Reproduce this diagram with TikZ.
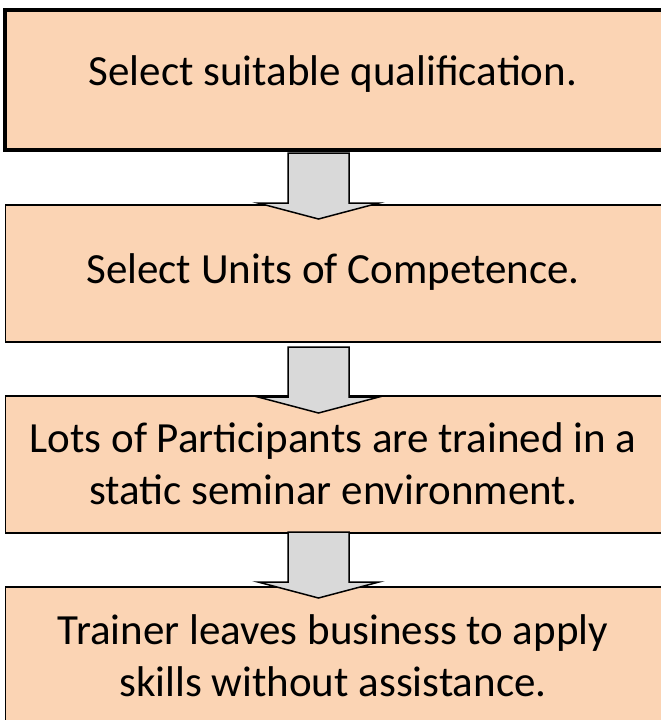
\documentclass[tikz,border=0pt]{standalone}
\usepackage{fontspec}
\setmainfont{Carlito}
\definecolor{peach}{HTML}{FBD4B4}
\definecolor{arrowgrey}{HTML}{D9D9D9}
\begin{document}
\begin{tikzpicture}[x=1pt,y=-1pt,
  boxstyle/.style={draw=black, fill=peach, line width=1.8pt},
  thickbox/.style={boxstyle, line width=4pt},
  txt/.style={font=\fontsize{43}{51.6}\selectfont, align=center, inner sep=0pt, text=black},
  arrowstyle/.style={draw=black, fill=arrowgrey, line width=1.5pt, line join=miter},
  blockarrow/.pic={\draw[arrowstyle] (-30.5,0) -- (30.5,0) -- (30.5,50) -- (60.5,50) -- (0,66) -- (-60.5,50) -- (-30.5,50) -- cycle;}
]
\useasboundingbox (0,0) rectangle (661,720);
\clip (0,0) rectangle (661,720);
\fill[white] (0,0) rectangle (661,720);
% boxes
\draw[thickbox] (5,10) rectangle (665,150);
\node[inner sep=0pt] (b1) at (335,80) {};
\draw[boxstyle] (5.5,205) rectangle (665,342);
\node[inner sep=0pt] (b2) at (335,273) {};
\draw[boxstyle] (5.5,396) rectangle (665,533);
\node[inner sep=0pt] (b3) at (335,464) {};
\draw[boxstyle] (5.5,587) rectangle (665,760);
\node[inner sep=0pt] (b4) at (335,673) {};
% texts
\node[txt, anchor=base] (t1) at (333,85) {Select suitable qualification.};
\node[txt, anchor=base] (t2) at (333,283) {Select Units of Competence.};
\node[txt, anchor=base] (t3) at (333,504) {Lots of Participants are trained in a\\static seminar environment.};
\node[txt, anchor=base] (t4) at (333,696) {Trainer leaves business to apply\\skills without assistance.};
% arrows
\pic (a1) at (318.5,153) {blockarrow};
\pic (a2) at (318.5,347) {blockarrow};
\pic (a3) at (318.5,532) {blockarrow};
\end{tikzpicture}
\end{document}
